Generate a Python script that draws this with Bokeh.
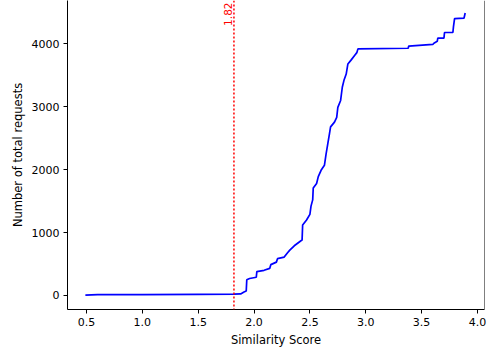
from bokeh.plotting import figure
from bokeh.models import Span, Label, Range1d, FixedTicker
from bokeh.embed import file_html
from bokeh.resources import INLINE
import math

score = [0.49, 0.60, 1.00, 1.50, 1.82, 1.88, 1.91, 1.93, 1.935, 1.96, 2.02, 2.025, 2.09, 2.14, 2.15,
         2.20, 2.21, 2.27, 2.30, 2.32, 2.36, 2.42, 2.43, 2.435, 2.47, 2.50, 2.51, 2.525, 2.53, 2.56,
         2.575, 2.60, 2.63, 2.645, 2.66, 2.675, 2.685, 2.72, 2.74, 2.75, 2.775, 2.79, 2.805, 2.825,
         2.84, 2.87, 2.90, 2.92, 2.93, 3.38, 3.385, 3.60, 3.61, 3.64, 3.645, 3.70, 3.705, 3.78,
         3.785, 3.795, 3.88, 3.89]
requests = [5, 12, 15, 18, 20, 25, 55, 70, 250, 270, 290, 380, 400, 430, 490,
            530, 585, 610, 680, 720, 790, 870, 880, 1120, 1200, 1290, 1420, 1520, 1710, 1780,
            1890, 1990, 2070, 2250, 2410, 2570, 2680, 2755, 2830, 2990, 3100, 3310, 3420, 3520,
            3680, 3745, 3815, 3860, 3920, 3930, 3965, 3990, 4010, 4040, 4090, 4090, 4180, 4180,
            4270, 4400, 4410, 4490]
threshold = 1.82
x_ticks = [0.5, 1.0, 1.5, 2.0, 2.5, 3.0, 3.5, 4.0]
y_ticks = [0, 1000, 2000, 3000, 4000]

x0, x1 = 0.33, 4.063
y0, y1 = -223, 4689

p = figure(width=488, height=351, output_backend="svg", toolbar_location=None,
           x_range=Range1d(x0, x1), y_range=Range1d(y0, y1),
           min_border_left=67, min_border_right=4, min_border_top=0, min_border_bottom=42)
p.outline_line_color = None
p.background_fill_color = "white"
p.border_fill_color = "white"
p.xgrid.visible = False
p.ygrid.visible = False

font = "DejaVu Sans"
for ax in (p.xaxis[0], p.yaxis[0]):
    ax.axis_line_color = "black"
    ax.axis_line_width = 1
    ax.major_tick_line_color = "black"
    ax.major_tick_out = 4
    ax.major_tick_in = 0
    ax.minor_tick_line_color = None
    ax.major_label_text_font = font
    ax.major_label_text_font_size = "11px"
    ax.major_label_text_color = "black"
    ax.major_label_standoff = 4
    ax.axis_label_text_font = font
    ax.axis_label_text_font_size = "11.5px"
    ax.axis_label_text_font_style = "normal"
    ax.axis_label_text_color = "black"
    ax.axis_label_standoff = 4

p.xaxis.ticker = FixedTicker(ticks=x_ticks)
p.yaxis.ticker = FixedTicker(ticks=y_ticks)
p.xaxis.major_label_overrides = {t: f"{t:.1f}" for t in x_ticks}
p.xaxis.axis_label = "Similarity Score"
p.yaxis.axis_label = "Number of total requests"

p.add_layout(Span(location=x1, dimension="height", line_color="black", line_width=1))

p.line(score, requests, line_color="blue", line_width=1.7)

p.add_layout(Span(location=threshold, dimension="height", line_color="red",
                  line_width=1.5, line_dash="2 2"))
p.add_layout(Label(x=threshold, y=y1, text=f"{threshold:.2f}", angle=math.pi / 2,
                   text_align="right", text_baseline="bottom", x_offset=-2, y_offset=-2,
                   text_color="red", text_font=font, text_font_size="10.5px"))

open("out.html", "w").write(file_html(p, INLINE))
